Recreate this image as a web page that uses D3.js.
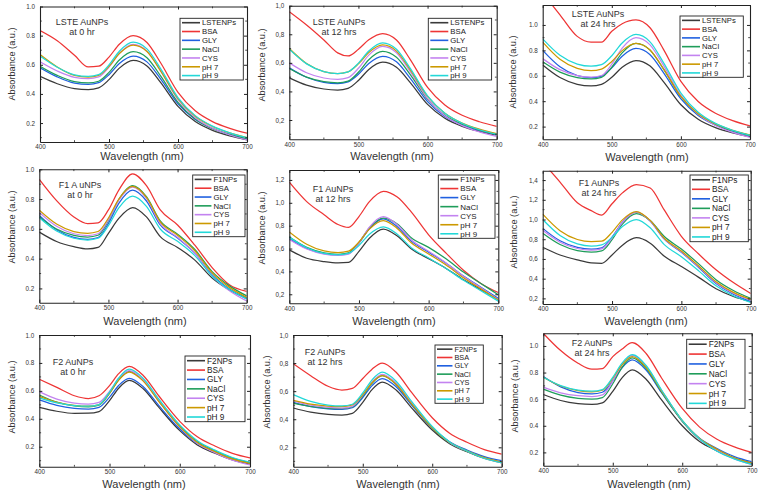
<!DOCTYPE html>
<html><head><meta charset="utf-8">
<script src="https://cdn.jsdelivr.net/npm/d3@7"></script>
<style>body{margin:0;background:#fff}svg{display:block}text{font-family:"Liberation Sans",Arial,sans-serif}</style>
</head><body>
<svg id="c" width="762" height="495"></svg>
<script>
// ---------- DATA ----------
const wlA = [400,425,450,470,485,500,515,535,555,575,600,625,650,675,700];
const wlB = [400,425,450,470,485,500,513,528,548,570,600,625,650,675,700];
const seriesLabels = ["BSA","GLY","NaCl","CYS","pH 7","pH 9"];
const npLabels = ["LSTENPs","F1NPs","F2NPs"];
const sampleNames = ["LSTE AuNPs","F1 AuNPs","F2 AuNPs"];
const timeLabels = ["at 0 hr","at 12 hrs","at 24 hrs"];
const xTicks = [400,500,600,700];
const seriesColors = ["#3a3a3a","#ee3535","#2060e0","#1f9d5a","#c383f0","#cc9900","#22d8d8"];

// order: NPs, BSA, GLY, NaCl, CYS, pH 7, pH 9
const lste0 = [
 [0.52,0.47,0.437,0.43,0.442,0.498,0.577,0.63,0.592,0.477,0.314,0.21,0.15,0.112,0.085],
 [0.835,0.765,0.665,0.585,0.59,0.653,0.741,0.80,0.753,0.612,0.411,0.284,0.21,0.164,0.13],
 [0.58,0.517,0.474,0.465,0.477,0.532,0.609,0.66,0.62,0.502,0.332,0.225,0.163,0.123,0.095],
 [0.59,0.527,0.484,0.475,0.487,0.548,0.633,0.69,0.648,0.522,0.342,0.228,0.162,0.12,0.09],
 [0.62,0.557,0.514,0.505,0.517,0.584,0.678,0.74,0.694,0.557,0.36,0.236,0.164,0.118,0.085],
 [0.67,0.585,0.527,0.515,0.527,0.589,0.677,0.735,0.691,0.557,0.367,0.246,0.176,0.132,0.10],
 [0.66,0.583,0.531,0.52,0.532,0.599,0.693,0.755,0.709,0.572,0.375,0.251,0.179,0.133,0.10]
];
const lste12 = [
 [0.495,0.444,0.417,0.41,0.422,0.477,0.554,0.605,0.569,0.462,0.309,0.212,0.156,0.121,0.095],
 [0.958,0.865,0.76,0.67,0.648,0.695,0.761,0.805,0.76,0.623,0.428,0.305,0.233,0.188,0.155],
 [0.565,0.499,0.464,0.455,0.467,0.52,0.595,0.645,0.607,0.492,0.329,0.225,0.165,0.127,0.10],
 [0.56,0.50,0.468,0.46,0.472,0.534,0.622,0.68,0.639,0.518,0.344,0.233,0.17,0.129,0.10],
 [0.60,0.531,0.494,0.485,0.497,0.562,0.654,0.715,0.671,0.539,0.35,0.23,0.161,0.117,0.085],
 [0.70,0.595,0.539,0.525,0.537,0.593,0.672,0.725,0.682,0.551,0.365,0.248,0.179,0.136,0.105],
 [0.695,0.593,0.539,0.525,0.537,0.598,0.683,0.74,0.695,0.561,0.369,0.247,0.177,0.132,0.10]
];
const lste24 = [
 [0.685,0.586,0.533,0.52,0.532,0.588,0.667,0.72,0.678,0.552,0.372,0.258,0.192,0.15,0.12],
 [1.25,1.08,0.91,0.865,0.865,0.95,1.01,1.04,0.98,0.806,0.556,0.397,0.305,0.247,0.205],
 [0.80,0.671,0.602,0.585,0.597,0.662,0.754,0.815,0.767,0.623,0.418,0.288,0.212,0.164,0.13],
 [0.71,0.629,0.586,0.575,0.587,0.667,0.78,0.855,0.804,0.652,0.435,0.297,0.217,0.166,0.13],
 [0.735,0.648,0.602,0.59,0.602,0.691,0.817,0.90,0.845,0.68,0.445,0.296,0.209,0.154,0.115],
 [0.865,0.73,0.658,0.64,0.652,0.713,0.798,0.855,0.805,0.653,0.437,0.301,0.221,0.171,0.135],
 [0.89,0.761,0.692,0.675,0.687,0.758,0.858,0.925,0.869,0.702,0.464,0.313,0.225,0.17,0.13]
];
const f1_0 = [
 [0.578,0.515,0.48,0.465,0.475,0.57,0.67,0.743,0.68,0.548,0.475,0.39,0.27,0.19,0.135],
 [0.933,0.79,0.68,0.635,0.64,0.727,0.86,0.97,0.89,0.727,0.626,0.49,0.34,0.225,0.18],
 [0.69,0.594,0.543,0.53,0.542,0.637,0.771,0.86,0.787,0.626,0.539,0.437,0.291,0.196,0.13],
 [0.68,0.599,0.556,0.545,0.557,0.657,0.797,0.89,0.816,0.653,0.564,0.461,0.313,0.217,0.15],
 [0.71,0.617,0.567,0.555,0.567,0.661,0.792,0.88,0.804,0.635,0.543,0.436,0.283,0.184,0.115],
 [0.725,0.632,0.582,0.57,0.582,0.673,0.80,0.885,0.811,0.647,0.557,0.453,0.304,0.207,0.14],
 [0.675,0.585,0.537,0.525,0.537,0.622,0.741,0.82,0.751,0.599,0.516,0.42,0.282,0.192,0.13]
];
const f1_12 = [
 [0.588,0.515,0.486,0.475,0.478,0.575,0.69,0.77,0.709,0.598,0.512,0.426,0.327,0.241,0.155],
 [1.18,1.01,0.895,0.81,0.785,0.88,1.01,1.10,1.05,0.92,0.72,0.56,0.41,0.295,0.215],
 [0.685,0.601,0.556,0.545,0.557,0.648,0.775,0.86,0.791,0.665,0.568,0.471,0.36,0.262,0.165],
 [0.70,0.61,0.562,0.55,0.562,0.653,0.78,0.865,0.815,0.695,0.61,0.51,0.395,0.295,0.195],
 [0.68,0.596,0.551,0.54,0.552,0.65,0.788,0.88,0.808,0.677,0.576,0.474,0.358,0.257,0.155],
 [0.745,0.637,0.579,0.565,0.577,0.657,0.77,0.845,0.776,0.65,0.553,0.456,0.345,0.247,0.15],
 [0.70,0.607,0.557,0.545,0.557,0.627,0.725,0.79,0.725,0.608,0.517,0.426,0.322,0.231,0.14]
];
const f1_24 = [
 [0.718,0.64,0.59,0.56,0.555,0.64,0.74,0.815,0.76,0.63,0.523,0.413,0.297,0.219,0.167],
 [1.58,1.38,1.17,1.09,1.045,1.16,1.27,1.355,1.32,1.10,0.83,0.65,0.49,0.36,0.25],
 [0.91,0.784,0.717,0.70,0.712,0.821,0.973,1.075,0.985,0.804,0.668,0.514,0.351,0.242,0.17],
 [0.86,0.746,0.685,0.67,0.682,0.795,0.954,1.06,0.99,0.83,0.70,0.55,0.39,0.28,0.20],
 [0.89,0.77,0.706,0.69,0.702,0.814,0.971,1.075,0.986,0.807,0.672,0.52,0.359,0.252,0.18],
 [1.055,0.887,0.797,0.775,0.78,0.87,0.996,1.08,0.991,0.813,0.68,0.528,0.368,0.261,0.19],
 [1.0,0.838,0.752,0.73,0.742,0.819,0.928,1.0,0.916,0.748,0.622,0.479,0.328,0.227,0.16]
];
const f2_0 = [
 [0.482,0.454,0.439,0.44,0.452,0.53,0.619,0.675,0.615,0.483,0.315,0.213,0.153,0.105,0.075],
 [0.683,0.625,0.565,0.545,0.565,0.638,0.723,0.775,0.71,0.565,0.382,0.271,0.205,0.153,0.12],
 [0.535,0.496,0.475,0.47,0.482,0.555,0.638,0.69,0.63,0.496,0.327,0.224,0.164,0.115,0.085],
 [0.57,0.519,0.492,0.485,0.497,0.582,0.679,0.74,0.675,0.53,0.347,0.236,0.17,0.118,0.085],
 [0.595,0.541,0.512,0.505,0.517,0.597,0.688,0.745,0.678,0.529,0.34,0.225,0.158,0.104,0.07],
 [0.56,0.518,0.496,0.49,0.502,0.584,0.677,0.735,0.67,0.525,0.342,0.231,0.165,0.113,0.08],
 [0.55,0.514,0.495,0.49,0.502,0.591,0.692,0.755,0.689,0.542,0.356,0.243,0.176,0.123,0.09]
];
const f2_12 = [
 [0.48,0.45,0.434,0.43,0.442,0.52,0.609,0.665,0.608,0.483,0.323,0.226,0.169,0.124,0.095],
 [0.795,0.71,0.635,0.608,0.62,0.69,0.755,0.80,0.735,0.593,0.411,0.301,0.236,0.184,0.152],
 [0.52,0.49,0.474,0.47,0.482,0.555,0.638,0.69,0.632,0.503,0.339,0.24,0.181,0.134,0.105],
 [0.515,0.491,0.478,0.475,0.487,0.565,0.654,0.71,0.648,0.512,0.338,0.233,0.171,0.121,0.09],
 [0.53,0.50,0.484,0.48,0.492,0.572,0.663,0.72,0.657,0.518,0.342,0.235,0.172,0.122,0.09],
 [0.535,0.508,0.494,0.49,0.502,0.575,0.658,0.71,0.649,0.513,0.341,0.236,0.175,0.126,0.095],
 [0.575,0.527,0.501,0.495,0.507,0.587,0.678,0.735,0.671,0.529,0.348,0.238,0.174,0.122,0.09]
];
const f2_24 = [
 [0.635,0.59,0.566,0.56,0.572,0.659,0.758,0.82,0.75,0.596,0.40,0.281,0.211,0.155,0.12],
 [1.095,0.965,0.87,0.825,0.83,0.92,0.975,1.025,0.943,0.761,0.53,0.39,0.299,0.241,0.2],
 [0.77,0.692,0.65,0.64,0.652,0.737,0.834,0.895,0.819,0.65,0.436,0.306,0.229,0.168,0.13],
 [0.675,0.63,0.606,0.60,0.612,0.716,0.836,0.91,0.831,0.656,0.433,0.298,0.218,0.155,0.115],
 [0.69,0.648,0.626,0.62,0.632,0.736,0.856,0.93,0.848,0.668,0.438,0.299,0.217,0.151,0.11],
 [0.765,0.699,0.664,0.655,0.667,0.756,0.857,0.92,0.84,0.664,0.44,0.304,0.224,0.16,0.12],
 [0.765,0.702,0.668,0.66,0.672,0.764,0.869,0.935,0.853,0.671,0.44,0.30,0.209,0.151,0.11]
];
const yTicks1 = [0.2,0.4,0.6,0.8,1.0];
const yTicks2 = [0.2,0.4,0.6,0.8,1.0,1.2];
const yTicks3 = [0.2,0.4,0.6,0.8,1.0,1.2,1.4];

// ---------- LAYOUT ----------
const panels = [
 {data:lste0, wl:wlA, r:0, x:[40,247], y:[142,6.5], yd:[0.07,1.0], yt:yTicks1, comma:false, lg:[180,18.3,63.3,61.7], nt:[82,25], yl:[11.7,64], xl:[142,160]},
 {data:lste12,wl:wlA, r:0, x:[289.3,496.7], y:[139.3,5.7], yd:[0.065,1.0], yt:yTicks1, comma:true, lg:[428.3,18.3,63.3,61.7], nt:[339,25], yl:[261.7,65], xl:[392,160]},
 {data:lste24,wl:wlA, r:0, x:[542.7,750], y:[139.3,5], yd:[0.10,1.157], yt:yTicks1, comma:false, lg:[680,16,63.3,61.3], nt:[598,17], yl:[512.7,72], xl:[647,161]},
 {data:f1_0,  wl:wlA, r:1, x:[39.3,246.7], y:[302.7,169.3], yd:[0.104,1.0], yt:yTicks1, comma:false, lg:[192.7,175,52.3,61.7], nt:[80,188], yl:[11.7,227], xl:[145,325], t:"F1 A uNPs"},
 {data:f1_12, wl:wlA, r:1, x:[289.3,498.3], y:[303.3,170], yd:[0.121,1.287], yt:yTicks2, comma:true, lg:[438.3,175,56.7,63.3], nt:[333,192], yl:[261.7,228], xl:[394,325]},
 {data:f1_24, wl:wlA, r:1, x:[542.7,750.7], y:[304,170.7], yd:[0.143,1.495], yt:yTicks3, comma:true, lg:[690,175,58.3,66.7], nt:[599,186], yl:[513.3,232], xl:[646,325]},
 {data:f2_0,  wl:wlB, r:2, x:[39.3,250], y:[466.7,335], yd:[0.057,1.0], yt:yTicks1, comma:false, lg:[185,356,60,65.7], nt:[73,365], yl:[11.7,397], xl:[144,488]},
 {data:f2_12, wl:wlB, r:2, x:[293.3,501.7], y:[466.7,335], yd:[0.062,1.0], yt:yTicks1, comma:true, lg:[435,345,48.3,58.3], nt:[325,355], yl:[266.7,392], xl:[398,488]},
 {data:f2_24, wl:wlB, r:2, x:[543.3,751.7], y:[465.7,333.3], yd:[0.10,1.095], yt:yTicks1, comma:false, lg:[686.7,339.3,58.3,69], nt:[592,346], yl:[515,396], xl:[649,488]}
];

const svg = d3.select("#c");
const ink = "#222";

panels.forEach((p, pi) => {
  const g = svg.append("g");
  const x = d3.scaleLinear().domain([400,700]).range(p.x);
  const y = d3.scaleLinear().domain(p.yd).range(p.y);
  const fmt = v => { const s = d3.format(".1f")(v); return p.comma ? s.replace(".", ",") : s; };

  const clipId = "clip" + pi;
  svg.append("defs").append("clipPath").attr("id", clipId)
    .append("rect").attr("x", p.x[0]).attr("y", p.y[1]).attr("width", p.x[1]-p.x[0]).attr("height", p.y[0]-p.y[1]);

  // lines
  const line = d3.line().x((d,i) => x(p.wl[i])).y(d => y(d)).curve(d3.curveMonotoneX);
  const lg = g.append("g").attr("clip-path", `url(#${clipId})`);
  p.data.forEach((s, si) => {
    lg.append("path").attr("d", line(s)).attr("fill","none")
      .attr("stroke", seriesColors[si]).attr("stroke-width", 1.25).attr("stroke-linejoin","round");
  });

  // axes (inward ticks, mirrored)
  const xMinor = [450,550,650];
  const yMinor = p.yt.map(v => v - 0.1).filter(v => v > p.yd[0]);
  const axB = d3.axisBottom(x).tickValues(xTicks).tickSizeInner(-3).tickSizeOuter(0).tickPadding(3).tickFormat(d3.format("d"));
  const axT = d3.axisTop(x).tickValues(xTicks).tickSizeInner(-3).tickSizeOuter(0).tickFormat("");
  const axL = d3.axisLeft(y).tickValues(p.yt).tickSizeInner(-3).tickSizeOuter(0).tickPadding(5).tickFormat(fmt);
  const axR = d3.axisRight(y).tickValues(p.yt).tickSizeInner(-3).tickSizeOuter(0).tickFormat("");
  const style = sel => { sel.selectAll("path").attr("stroke", ink).attr("stroke-width",1.1);
    sel.selectAll("line").attr("stroke", ink).attr("stroke-width",1);
    sel.selectAll("text").attr("fill","#333").style("font-size","6.3px"); };
  g.append("g").attr("transform",`translate(0,${p.y[0]})`).call(axB).call(style);
  g.append("g").attr("transform",`translate(0,${p.y[1]})`).call(axT).call(style);
  g.append("g").attr("transform",`translate(${p.x[0]},0)`).call(axL).call(style);
  g.append("g").attr("transform",`translate(${p.x[1]},0)`).call(axR).call(style);
  // minor ticks
  const mt = g.append("g").attr("stroke", ink).attr("stroke-width", 0.8);
  xMinor.forEach(v => {
    mt.append("line").attr("x1",x(v)).attr("x2",x(v)).attr("y1",p.y[0]).attr("y2",p.y[0]-1.8);
    mt.append("line").attr("x1",x(v)).attr("x2",x(v)).attr("y1",p.y[1]).attr("y2",p.y[1]+1.8);
  });
  yMinor.forEach(v => {
    mt.append("line").attr("x1",p.x[0]).attr("x2",p.x[0]+1.8).attr("y1",y(v)).attr("y2",y(v));
    mt.append("line").attr("x1",p.x[1]).attr("x2",p.x[1]-1.8).attr("y1",y(v)).attr("y2",y(v));
  });

  // axis titles
  g.append("text").attr("x", p.xl[0]).attr("y", p.xl[1]).attr("text-anchor","middle")
    .style("font-size","11px").attr("fill","#333").text("Wavelength (nm)");
  g.append("text").attr("transform",`translate(${p.yl[0]+3.3},${p.yl[1]}) rotate(-90)`).attr("text-anchor","middle")
    .style("font-size","9.2px").attr("fill","#333").text("Absorbance (a.u.)");

  // annotation
  const col = pi % 3;
  const nt = g.append("text").attr("text-anchor","middle").attr("fill","#333").style("font-size","9px");
  nt.append("tspan").attr("x", p.nt[0]).attr("y", p.nt[1]).text(p.t || sampleNames[p.r]);
  nt.append("tspan").attr("x", p.nt[0]).attr("y", p.nt[1] + 9.5).text(timeLabels[col]);

  // legend
  const [lx, ly, lw, lh] = p.lg;
  const leg = g.append("g");
  leg.append("rect").attr("x",lx).attr("y",ly).attr("width",lw).attr("height",lh)
    .attr("fill","#fff").attr("stroke",ink).attr("stroke-width",0.9);
  const labels = [npLabels[p.r]].concat(seriesLabels);
  const rh = lh / 7;
  const fs = Math.min(8.3, rh * 0.88);
  const sw = Math.min(18, lw*0.32);
  labels.forEach((lab, k) => {
    const cy = ly + rh*(k+0.5);
    leg.append("line").attr("x1", lx+2).attr("x2", lx+2+sw).attr("y1", cy).attr("y2", cy)
      .attr("stroke", seriesColors[k]).attr("stroke-width", 1.6);
    leg.append("text").attr("x", lx+4+sw).attr("y", cy + fs*0.36).attr("fill","#222")
      .style("font-size", fs + "px").text(lab);
  });
});
</script>
</body></html>
